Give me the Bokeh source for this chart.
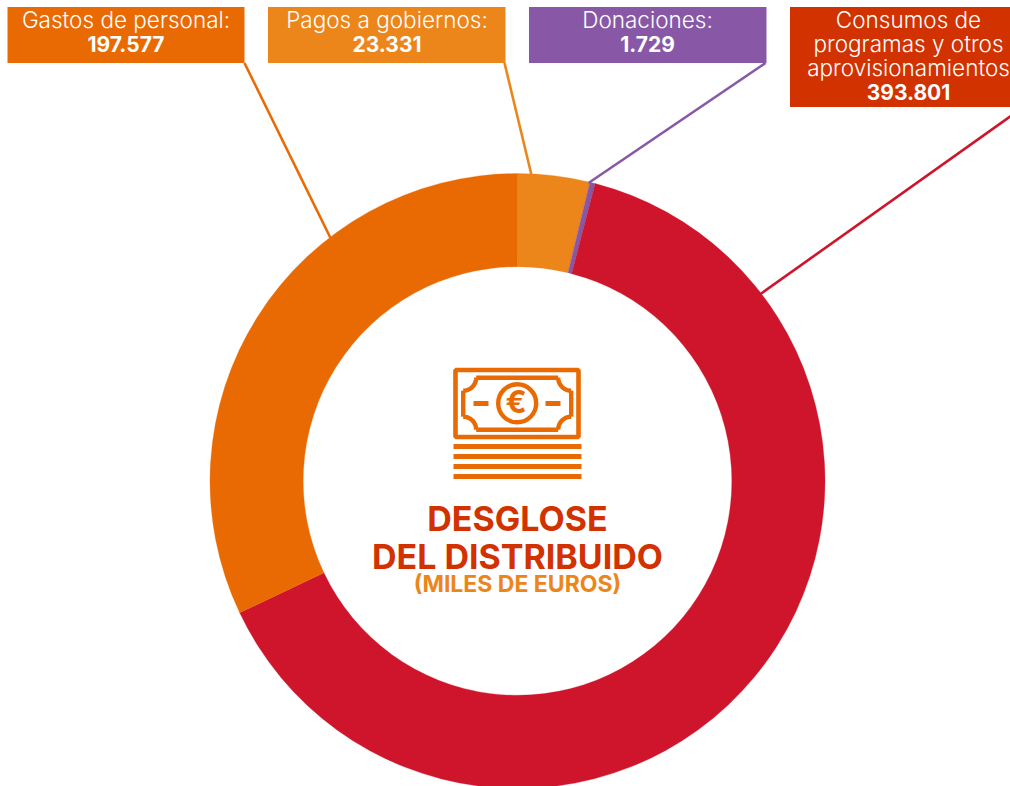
import numpy as np
from bokeh.plotting import figure
from bokeh.models import ColumnDataSource
from bokeh.core.properties import value
from bokeh.embed import file_html
from bokeh.resources import INLINE

categories = ["Pagos a gobiernos", "Donaciones", "Consumos de programas y otros aprovisionamientos", "Gastos de personal"]
amounts = [23331, 1729, 393801, 197577]
wedge_colors = ["#EC851A", "#8858A6", "#CE152B", "#E96A03"]
value_labels = [f"{v:,}".replace(",", ".") for v in amounts]

FONT = "Inter"
LIGHT = "Inter Light"
CX, CY, R_OUT, R_IN = 518, 481, 307.5, 214.3
WHITE = "#FFFFFF"
ICON = "#E96A03"

p = figure(width=1010, height=786, x_range=(1, 1011), y_range=(786.5, 0.5),
           output_backend="svg", toolbar_location=None, min_border=0,
           outline_line_color=None, background_fill_color="white", border_fill_color="white")
p.axis.visible = False
p.grid.visible = False

# donut, clockwise from 12 o'clock, angles come from the amounts
frac = np.array(amounts) / sum(amounts) * 2 * np.pi
ends = np.cumsum(frac)
starts = ends - frac
src = ColumnDataSource(dict(start=np.pi / 2 - starts, end=np.pi / 2 - ends, color=wedge_colors))
p.annular_wedge(x=CX, y=CY, inner_radius=R_IN, outer_radius=R_OUT, start_angle="start", end_angle="end",
                direction="clock", fill_color="color", line_color="color", line_width=0.3, source=src)

# leader lines
p.segment(x0=[245, 505, 766, 1012], y0=[63, 63, 63, 115.5], x1=[331, 532, 589, 761], y1=[238, 175, 183, 294],
          line_color=["#E96A03", "#EC851A", "#8858A6", "#CE152B"], line_width=2.6)

# label boxes
p.quad(left=[8, 268.5, 529.5, 790.5], right=[245, 506, 767, 1028], top=[7, 7, 7, 7], bottom=[63, 63, 63, 107],
       fill_color=["#E96A03", "#EC851A", "#8858A6", "#D13200"], line_color=None)


def txt(x, y, s, size, color=WHITE, style="normal", font=FONT):
    p.text(x=[x], y=[y - 0.4 * size], text=[s], text_font=value(font), text_font_size=f"{size}px", text_color=color,
           text_font_style=style, text_align="center", text_baseline="alphabetic")


txt(126.5, 28, "Gastos de personal:", 22.5, font=LIGHT)
txt(126.5, 52, value_labels[3], 21, style="bold")
txt(387.5, 28, "Pagos a gobiernos:", 22.5, font=LIGHT)
txt(387.5, 52, value_labels[0], 21, style="bold")
txt(648, 28, "Donaciones:", 22.5, font=LIGHT)
txt(648, 52, value_labels[1], 21, style="bold")
txt(909, 28, "Consumos de", 22.5, font=LIGHT)
txt(909, 52, "programas y otros", 22.5, font=LIGHT)
txt(909, 76, "aprovisionamientos", 22.5, font=LIGHT)
txt(909, 100, value_labels[2], 21, style="bold")

txt(518, 532, "DESGLOSE", 34, "#D13200", "bold")
txt(518, 570, "DEL DISTRIBUIDO", 34, "#D13200", "bold")
txt(518, 593, "(MILES DE EUROS)", 23, "#EC851A", "bold")

# banknote icon
p.rect(x=517.5, y=403.5, width=123, height=67, fill_color=None, line_color=ICON, line_width=4.6)
L, Rr, T, B, r = 463.7, 571.7, 377.7, 429.7, 13
p.segment(x0=[L + r, L + r, L, Rr], y0=[T, B, T + r, T + r], x1=[Rr - r, Rr - r, L, Rr], y1=[T, B, B - r, B - r],
          line_color=ICON, line_width=4.4)
t = np.linspace(0, np.pi / 2, 20)
for sx, sy, cx, cy in [(1, 1, L, T), (-1, 1, Rr, T), (1, -1, L, B), (-1, -1, Rr, B)]:
    p.line(cx + sx * r * np.cos(t), cy + sy * r * np.sin(t), line_color=ICON, line_width=4.4)
p.circle(x=517.7, y=403.3, radius=19, fill_color=None, line_color=ICON, line_width=4.4)
p.rect(x=[481.5, 553.5], y=[403.5, 403.5], width=15, height=5, fill_color=ICON, line_color=None)
txt(516.5, 414, "€", 31, ICON, "bold")
p.rect(x=518, y=[446.5, 456.5, 466.5, 476.5], width=128, height=5, fill_color=ICON, line_color=None)

open("out.html", "w").write(file_html(p, INLINE))
